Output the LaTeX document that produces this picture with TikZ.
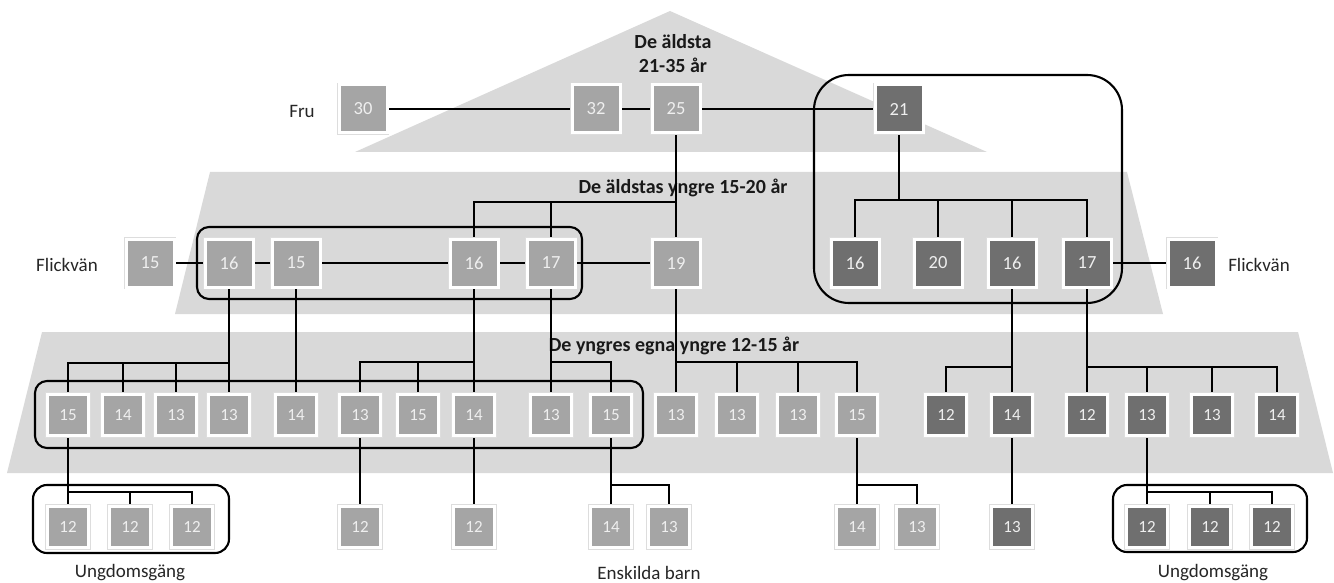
\documentclass[tikz,border=0pt]{standalone}
\usepackage{fontspec}
\setmainfont{Carlito}
\pgfdeclarelayer{bands}
\pgfdeclarelayer{links}
\pgfsetlayers{bands,links,main}
\definecolor{bandc}{HTML}{D9D9D9}
\definecolor{lite}{HTML}{A5A5A5}
\definecolor{darkc}{HTML}{6F6F6F}
\definecolor{numc}{HTML}{EFEFEF}
\definecolor{ringc}{HTML}{DDDDDD}
\tikzset{
  box/.style={rectangle, inner sep=0pt, line width=3pt, draw=white, text=numc,
    font=\fontsize{18.5}{20}\selectfont, preaction={draw=ringc, line width=4.6pt}},
  big/.style={box, minimum size=48pt},
  small/.style={box, minimum size=41pt, font=\fontsize{17}{19}\selectfont},
  lt/.style={fill=lite},
  dk/.style={fill=darkc},
  link/.style={line width=2.5pt, black},
  grp/.style={line width=2.1pt, black, rounded corners=12pt},
  lbl/.style={font=\fontsize{19}{22}\selectfont, text=black!85, inner sep=0pt},
  ttl/.style={font=\bfseries\fontsize{20}{23}\selectfont, text=black!90, inner sep=0pt},
}
\begin{document}
\begin{tikzpicture}[x=1pt, y=-1pt]
\useasboundingbox (0,0) rectangle (1334,583);
\begin{pgfonlayer}{bands}
  \fill[bandc] (355,152) -- (670,11) -- (987,152) -- cycle;
  \fill[bandc] (210,172) -- (1127,172) -- (1163,314) -- (175,314) -- cycle;
  \fill[bandc] (42,332) -- (1298,332) -- (1333,473) -- (7,473) -- cycle;
  \node[ttl] (t1a) at (673,42) {De äldsta};
  \node[ttl] (t1b) at (673,65) {21-35 år};
  \node[ttl] (t2) at (683,188) {De äldstas yngre 15-20 år};
  \node[ttl] (t3) at (674,346) {De yngres egna yngre 12-15 år};
  \node[lbl] (fru) at (302,111) {Fru};
  \node[lbl] (fl1) at (67,265) {Flickvän};
  \node[lbl] (fl2) at (1259,265) {Flickvän};
  \node[lbl] (u1) at (130,573) {Ungdomsgäng};
  \node[lbl] (eb) at (649,573) {Enskilda barn};
  \node[lbl] (u2) at (1213,573) {Ungdomsgäng};
\end{pgfonlayer}
% row 1
\node[big,lt] (n30) at (363,109) {30};
\node[big,lt] (n32) at (596,109) {32};
\node[big,lt] (n25) at (676,109) {25};
\node[big,dk] (n21) at (899,109) {21};
% row 2
\node[big,lt] (f15) at (150,263) {15};
\node[big,lt] (a16) at (229,263) {16};
\node[big,lt] (a15) at (296,263) {15};
\node[big,lt] (b16) at (474,263) {16};
\node[big,lt] (b17) at (551,263) {17};
\node[big,lt] (c19) at (676,263) {19};
\node[big,dk] (d16) at (855,263) {16};
\node[big,dk] (d20) at (938,263) {20};
\node[big,dk] (e16) at (1012,263) {16};
\node[big,dk] (e17) at (1087,263) {17};
\node[big,dk] (f16) at (1192,263) {16};
% row 3
\node[small,lt] (s1) at (68,415) {15};
\node[small,lt] (s2) at (123,415) {14};
\node[small,lt] (s3) at (176,415) {13};
\node[small,lt] (s4) at (229,415) {13};
\node[small,lt] (s5) at (296,415) {14};
\node[small,lt] (s6) at (360,415) {13};
\node[small,lt] (s7) at (418,415) {15};
\node[small,lt] (s8) at (474,415) {14};
\node[small,lt] (s9) at (551,415) {13};
\node[small,lt] (s10) at (611,415) {15};
\node[small,lt] (s11) at (676,415) {13};
\node[small,lt] (s12) at (737,415) {13};
\node[small,lt] (s13) at (798,415) {13};
\node[small,lt] (s14) at (857,415) {15};
\node[small,dk] (s15) at (946,415) {12};
\node[small,dk] (s16) at (1012,415) {14};
\node[small,dk] (s17) at (1087,415) {12};
\node[small,dk] (s18) at (1147,415) {13};
\node[small,dk] (s19) at (1212,415) {13};
\node[small,dk] (s20) at (1277,415) {14};
% row 4
\node[small,lt] (u4a) at (68,527) {12};
\node[small,lt] (u4b) at (130,527) {12};
\node[small,lt] (u4c) at (192,527) {12};
\node[small,lt] (u4d) at (360,527) {12};
\node[small,lt] (u4e) at (474,527) {12};
\node[small,lt] (u4f) at (611,527) {14};
\node[small,lt] (u4g) at (669,527) {13};
\node[small,lt] (u4h) at (857,527) {14};
\node[small,lt] (u4i) at (917,527) {13};
\node[small,dk] (u4j) at (1012,527) {13};
\node[small,dk] (u4k) at (1147,527) {12};
\node[small,dk] (u4l) at (1210,527) {12};
\node[small,dk] (u4m) at (1272,527) {12};
% junction points
\coordinate (j1) at (676,202);
\coordinate (j2) at (899,200);
\coordinate (j3) at (229,363);
\coordinate (j4) at (474,362);
\coordinate (j5) at (551,362);
\coordinate (j6) at (676,362);
\coordinate (j7) at (1012,367);
\coordinate (j8) at (1087,367);
\coordinate (j9) at (68,492);
\coordinate (j10) at (611,485);
\coordinate (j11) at (857,485);
\coordinate (j12) at (1147,492);
\begin{pgfonlayer}{links}
  \draw[link] (n30) -- (n32);
  \draw[link] (n32) -- (n25);
  \draw[link] (n25) -- (n21);
  \draw[link] (f15) -- (a16);
  \draw[link] (a16) -- (a15);
  \draw[link] (a15) -- (b16);
  \draw[link] (b16) -- (b17);
  \draw[link] (b17) -- (c19);
  \draw[link] (e17) -- (f16);
  % row 1 -> row 2
  \draw[link] (n25) -- (c19);
  \draw[link] (b16.north) |- (j1);
  \draw[link] (b17.north) -- (b17.north |- j1);
  \draw[link] (n21) -- (j2);
  \draw[link] (d16.north) |- (j2);
  \draw[link] (e17.north) |- (j2);
  \draw[link] (d20.north) -- (d20.north |- j2);
  \draw[link] (e16.north) -- (e16.north |- j2);
  % row 2 -> row 3
  \draw[link] (a16) -- (s4);
  \draw[link] (s1.north) |- (j3);
  \draw[link] (s2.north) -- (s2.north |- j3);
  \draw[link] (s3.north) -- (s3.north |- j3);
  \draw[link] (a15) -- (s5);
  \draw[link] (b16) -- (s8);
  \draw[link] (s6.north) |- (j4);
  \draw[link] (s7.north) -- (s7.north |- j4);
  \draw[link] (b17) -- (s9);
  \draw[link] (s10.north) |- (j5);
  \draw[link] (c19) -- (s11);
  \draw[link] (s14.north) |- (j6);
  \draw[link] (s12.north) -- (s12.north |- j6);
  \draw[link] (s13.north) -- (s13.north |- j6);
  \draw[link] (e16) -- (s16);
  \draw[link] (s15.north) |- (j7);
  \draw[link] (e17) -- (s17);
  \draw[link] (s20.north) |- (j8);
  \draw[link] (s18.north) -- (s18.north |- j8);
  \draw[link] (s19.north) -- (s19.north |- j8);
  % row 3 -> row 4
  \draw[link] (s1) -- (u4a);
  \draw[link] (u4c.north) |- (j9);
  \draw[link] (u4b.north) -- (u4b.north |- j9);
  \draw[link] (s6) -- (u4d);
  \draw[link] (s8) -- (u4e);
  \draw[link] (s10) -- (u4f);
  \draw[link] (u4g.north) |- (j10);
  \draw[link] (s14) -- (u4h);
  \draw[link] (u4i.north) |- (j11);
  \draw[link] (s16) -- (u4j);
  \draw[link] (s18) -- (u4k);
  \draw[link] (u4m.north) |- (j12);
  \draw[link] (u4l.north) -- (u4l.north |- j12);
\end{pgfonlayer}
% group outlines
\draw[grp, rounded corners=35pt] (814,75) rectangle (1122,303);
\draw[grp] (197,227) rectangle (582,299);
\draw[grp] (35,381) rectangle (643,448);
\draw[grp, rounded corners=14pt] (33,485) rectangle (229,553);
\draw[grp, rounded corners=14pt] (1113,485) rectangle (1307,552);
\end{tikzpicture}
\end{document}
